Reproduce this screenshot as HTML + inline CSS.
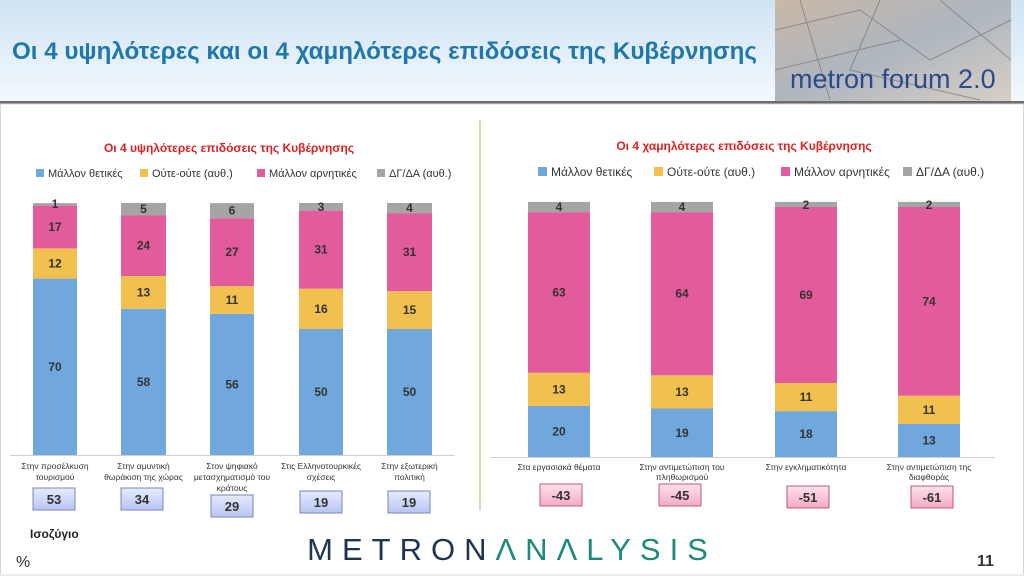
<!DOCTYPE html>
<html><head><meta charset="utf-8">
<style>
body{margin:0;width:1024px;height:576px;overflow:hidden;background:#fff;font-family:"Liberation Sans","DejaVu Sans",sans-serif;}
svg{display:block}
</style></head><body>
<svg width="1024" height="576" viewBox="0 0 1024 576" xmlns="http://www.w3.org/2000/svg" font-family="Liberation Sans, DejaVu Sans, sans-serif">
<defs>
<linearGradient id="hdr" x1="0" y1="0" x2="0" y2="1"><stop offset="0" stop-color="#cfe3f3"/><stop offset="1" stop-color="#f4f9fd"/></linearGradient>
<linearGradient id="img" x1="0" y1="0" x2="1" y2="1"><stop offset="0" stop-color="#c9b8a6"/><stop offset="0.5" stop-color="#aeb6bf"/><stop offset="1" stop-color="#d8cfc6"/></linearGradient>
<linearGradient id="bb" x1="0" y1="0" x2="0" y2="1"><stop offset="0" stop-color="#e6ecff"/><stop offset="1" stop-color="#b6c4f2"/></linearGradient>
<linearGradient id="pb" x1="0" y1="0" x2="0" y2="1"><stop offset="0" stop-color="#fde2ec"/><stop offset="1" stop-color="#f4a9c6"/></linearGradient>
</defs>
<rect x="0" y="0" width="1024" height="102" fill="url(#hdr)"/>
<rect x="0" y="101" width="1024" height="3" fill="#6d6d6d"/>
<text x="12" y="59" font-size="24" font-weight="bold" fill="#1f78aa" textLength="745" lengthAdjust="spacingAndGlyphs">Οι 4 υψηλότερες και οι 4 χαμηλότερες επιδόσεις της Κυβέρνησης</text>
<rect x="775" y="0" width="236" height="101" fill="url(#img)"/>
<g stroke="#6a6a6a" stroke-width="1" opacity="0.6" fill="none">
<path d="M775 30 L860 10 L930 60 L1011 20 M800 0 L830 100 M880 0 L850 70 L980 100 M940 0 L1011 60 M775 70 L900 40"/></g>
<text x="790" y="88" font-size="27" fill="#2c4a8a">metron forum 2.0</text>

<line x1="480" y1="120" x2="480" y2="510" stroke="#8cc46a" stroke-width="1"/>

<text x="229" y="152" font-size="12" font-weight="bold" fill="#e02020" text-anchor="middle">Οι 4 υψηλότερες επιδόσεις της Κυβέρνησης</text>
<g font-size="11" fill="#333">
<rect x="36" y="169" width="8" height="8" fill="#70a8de"/><text x="48" y="177">Μάλλον θετικές</text>
<rect x="140" y="169" width="8" height="8" fill="#f1c04f"/><text x="152" y="177">Ούτε-ούτε  (αυθ.)</text>
<rect x="257" y="169" width="8" height="8" fill="#e25c9c"/><text x="269" y="177">Μάλλον αρνητικές</text>
<rect x="377" y="169" width="8" height="8" fill="#a5a5a5"/><text x="389" y="177">ΔΓ/ΔΑ (αυθ.)</text>
</g>
<line x1="10" y1="455.5" x2="455" y2="455.5" stroke="#d0d0d0"/>
<g>
<rect x="33" y="278.6" width="44" height="176.4" fill="#70a8de"/><rect x="33" y="248.4" width="44" height="30.2" fill="#f1c04f"/><rect x="33" y="205.6" width="44" height="42.8" fill="#e25c9c"/><rect x="33" y="203.1" width="44" height="2.5" fill="#a5a5a5"/>
<rect x="121" y="308.8" width="45" height="146.2" fill="#70a8de"/><rect x="121" y="276" width="45" height="32.8" fill="#f1c04f"/><rect x="121" y="215.5" width="45" height="60.5" fill="#e25c9c"/><rect x="121" y="202.9" width="45" height="12.6" fill="#a5a5a5"/>
<rect x="210" y="313.9" width="44" height="141.1" fill="#70a8de"/><rect x="210" y="286.2" width="44" height="27.7" fill="#f1c04f"/><rect x="210" y="218.2" width="44" height="68" fill="#e25c9c"/><rect x="210" y="203.1" width="44" height="15.1" fill="#a5a5a5"/>
<rect x="299" y="329" width="44" height="126" fill="#70a8de"/><rect x="299" y="288.7" width="44" height="40.3" fill="#f1c04f"/><rect x="299" y="210.6" width="44" height="78.1" fill="#e25c9c"/><rect x="299" y="203" width="44" height="7.6" fill="#a5a5a5"/>
<rect x="387" y="329" width="45" height="126" fill="#70a8de"/><rect x="387" y="291.2" width="45" height="37.8" fill="#f1c04f"/><rect x="387" y="213.1" width="45" height="78.1" fill="#e25c9c"/><rect x="387" y="203" width="45" height="10.1" fill="#a5a5a5"/>
</g>
<g font-size="12" font-weight="bold" fill="#333" text-anchor="middle" dominant-baseline="central">
<text x="55" y="366.8">70</text><text x="55" y="263.5">12</text><text x="55" y="227">17</text><text x="55" y="204">1</text>
<text x="143.5" y="381.9">58</text><text x="143.5" y="292.4">13</text><text x="143.5" y="245.7">24</text><text x="143.5" y="209.2">5</text>
<text x="232" y="384.4">56</text><text x="232" y="300">11</text><text x="232" y="252.2">27</text><text x="232" y="210.6">6</text>
<text x="321" y="392">50</text><text x="321" y="308.8">16</text><text x="321" y="249.6">31</text><text x="321" y="206.8">3</text>
<text x="409.5" y="392">50</text><text x="409.5" y="310.1">15</text><text x="409.5" y="252.1">31</text><text x="409.5" y="208">4</text>
</g>
<g font-size="8.5" fill="#333" text-anchor="middle">
<text x="55" y="469">Στην προσέλκυση</text><text x="55" y="480">τουρισμού</text>
<text x="143.5" y="469">Στην αμυντική</text><text x="143.5" y="480">θωράκιση της χώρας</text>
<text x="232" y="469">Στον ψηφιακό</text><text x="232" y="480">μετασχηματισμό του</text><text x="232" y="491">κράτους</text>
<text x="321" y="469">Στις Ελληνοτουρκικές</text><text x="321" y="480">σχέσεις</text>
<text x="409.5" y="469">Στην εξωτερική</text><text x="409.5" y="480">πολιτική</text>
</g>
<g stroke="#7a86b8" stroke-width="1" fill="url(#bb)">
<rect x="33" y="488" width="42" height="22"/><rect x="121" y="488" width="42" height="22"/><rect x="211" y="495" width="42" height="22"/><rect x="300" y="491" width="42" height="22"/><rect x="388" y="491" width="42" height="22"/>
</g>
<g font-size="13" font-weight="bold" fill="#333" text-anchor="middle">
<text x="54" y="504">53</text><text x="142" y="504">34</text><text x="232" y="511">29</text><text x="321" y="507">19</text><text x="409" y="507">19</text>
</g>

<text x="744" y="150" font-size="12" font-weight="bold" fill="#e02020" text-anchor="middle">Οι 4 χαμηλότερες επιδόσεις της Κυβέρνησης</text>
<g font-size="12" fill="#333">
<rect x="538" y="167" width="9" height="9" fill="#70a8de"/><text x="551" y="176">Μάλλον θετικές</text>
<rect x="654" y="167" width="9" height="9" fill="#f1c04f"/><text x="667" y="176">Ούτε-ούτε  (αυθ.)</text>
<rect x="781" y="167" width="9" height="9" fill="#e25c9c"/><text x="794" y="176">Μάλλον αρνητικές</text>
<rect x="903" y="167" width="9" height="9" fill="#a5a5a5"/><text x="916" y="176">ΔΓ/ΔΑ (αυθ.)</text>
</g>
<line x1="490" y1="457.5" x2="995" y2="457.5" stroke="#d0d0d0"/>
<g>
<rect x="528" y="406" width="62" height="51" fill="#70a8de"/><rect x="528" y="372.8" width="62" height="33.2" fill="#f1c04f"/><rect x="528" y="212.1" width="62" height="160.7" fill="#e25c9c"/><rect x="528" y="201.9" width="62" height="10.2" fill="#a5a5a5"/>
<rect x="651" y="408.5" width="62" height="48.5" fill="#70a8de"/><rect x="651" y="375.3" width="62" height="33.2" fill="#f1c04f"/><rect x="651" y="212.1" width="62" height="163.2" fill="#e25c9c"/><rect x="651" y="201.9" width="62" height="10.2" fill="#a5a5a5"/>
<rect x="775" y="411.1" width="62" height="45.9" fill="#70a8de"/><rect x="775" y="383" width="62" height="28.1" fill="#f1c04f"/><rect x="775" y="207" width="62" height="176" fill="#e25c9c"/><rect x="775" y="201.9" width="62" height="5.1" fill="#a5a5a5"/>
<rect x="898" y="423.8" width="62" height="33.2" fill="#70a8de"/><rect x="898" y="395.7" width="62" height="28.1" fill="#f1c04f"/><rect x="898" y="207" width="62" height="188.7" fill="#e25c9c"/><rect x="898" y="201.9" width="62" height="5.1" fill="#a5a5a5"/>
</g>
<g font-size="12" font-weight="bold" fill="#333" text-anchor="middle" dominant-baseline="central">
<text x="559" y="431.5">20</text><text x="559" y="389.4">13</text><text x="559" y="292.5">63</text><text x="559" y="207">4</text>
<text x="682" y="432.8">19</text><text x="682" y="391.9">13</text><text x="682" y="293.7">64</text><text x="682" y="207">4</text>
<text x="806" y="434">18</text><text x="806" y="397">11</text><text x="806" y="295">69</text><text x="806" y="205">2</text>
<text x="929" y="440.4">13</text><text x="929" y="409.8">11</text><text x="929" y="301.4">74</text><text x="929" y="205">2</text>
</g>
<g font-size="8.5" fill="#333" text-anchor="middle">
<text x="559" y="470">Στα εργασιακά θέματα</text>
<text x="682" y="470">Στην αντιμετώπιση του</text><text x="682" y="480">πληθωρισμού</text>
<text x="806" y="470">Στην εγκληματικότητα</text>
<text x="929" y="470">Στην αντιμετώπιση της</text><text x="929" y="480">διαφθοράς</text>
</g>
<g stroke="#c05a80" stroke-width="1" fill="url(#pb)">
<rect x="540" y="484" width="42" height="22"/><rect x="659" y="484" width="42" height="22"/><rect x="787" y="486" width="42" height="22"/><rect x="911" y="486" width="42" height="22"/>
</g>
<g font-size="13" font-weight="bold" fill="#333" text-anchor="middle">
<text x="561" y="500">-43</text><text x="680" y="500">-45</text><text x="808" y="502">-51</text><text x="932" y="502">-61</text>
</g>

<text x="30" y="538" font-size="12" font-weight="bold" fill="#222">Ισοζύγιο</text>
<text x="16" y="567" font-size="16" fill="#333">%</text>
<text x="977" y="566" font-size="16" font-weight="bold" fill="#333">11</text>
<text x="512" y="560" font-size="31" text-anchor="middle" letter-spacing="9"><tspan fill="#1d3550">METRON</tspan><tspan fill="#1d8a7a">ΛNΛLYSIS</tspan></text>
<rect x="0.5" y="104" width="1023" height="471" fill="none" stroke="#d8d8d8"/>
</svg>
</body></html>
